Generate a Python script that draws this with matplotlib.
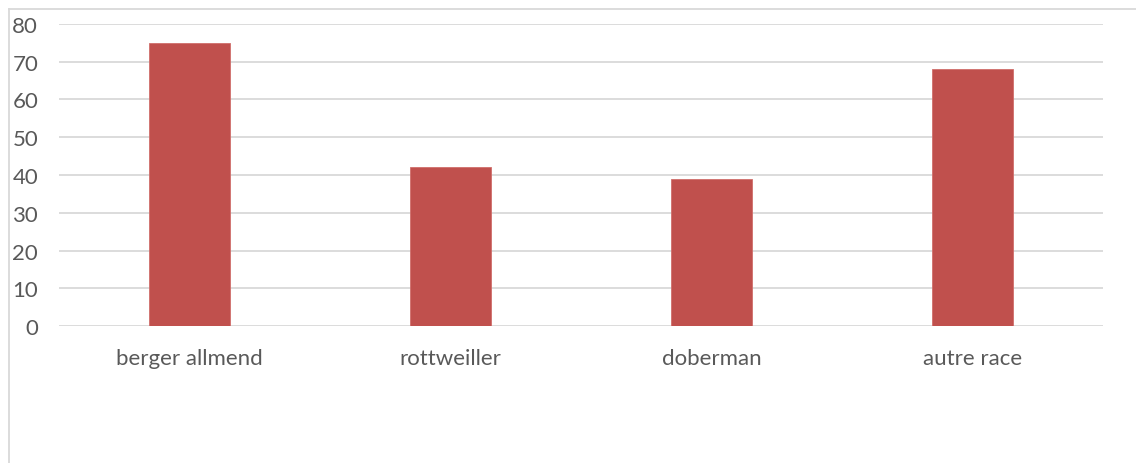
import matplotlib.pyplot as plt
from matplotlib.lines import Line2D

categories = ['berger allmend', 'rottweiller', 'doberman', 'autre race']
values = [75, 42, 39, 68]
yticks = [0, 10, 20, 30, 40, 50, 60, 70, 80]

W, H = 1136, 464
fig = plt.figure(figsize=(W / 100, H / 100), dpi=100)
plt.rcParams['font.family'] = ['Lato', 'DejaVu Sans']

# axes box in pixels: left 59, right 1103, top 25 (80), bottom 327 (0)
ax = fig.add_axes([59 / W, 1 - 327 / H, (1103 - 59) / W, (327 - 25) / H])
x = range(len(categories))
ax.bar(x, values, width=0.314, color='#C0504D', edgecolor='#D06E6B', linewidth=0.6, zorder=3)
ax.set_xlim(-0.5, len(categories) - 0.5)
ax.set_ylim(0, 80)
ax.set_yticks(yticks)
ax.set_xticks(list(x))
ax.set_xticklabels(categories)
ax.grid(axis='y', color='#D9D9D9', linewidth=1.3, zorder=0)
for s in ax.spines.values():
    s.set_visible(False)
ax.tick_params(axis='both', length=0, colors='#595959', labelsize=16)
ax.tick_params(axis='y', pad=15)
ax.tick_params(axis='x', pad=16)

# outer chart border (only top and left visible)
fig.add_artist(Line2D([9 / W, 9 / W], [0, 1 - 10 / H], color='#D9D9D9', linewidth=1.3, transform=fig.transFigure))
fig.add_artist(Line2D([9 / W, 1], [1 - 10 / H, 1 - 10 / H], color='#D9D9D9', linewidth=1.3, transform=fig.transFigure))

fig.savefig('out.png', dpi=100)
